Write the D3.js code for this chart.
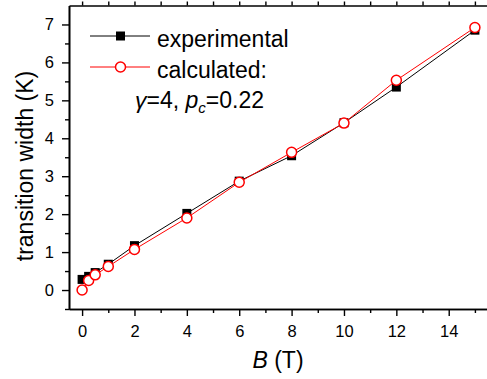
<!DOCTYPE html>
<html>
<head>
<meta charset="utf-8">
<script src="https://cdn.jsdelivr.net/npm/d3@7"></script>
<style>
  body { margin: 0; background: #fff; }
  svg { display: block; font-family: "Liberation Sans", Arial, sans-serif; }
</style>
</head>
<body>
<svg id="vis"></svg>
<script>
const plotWidth = 487;
const plotHeight = 379;

// field values (T)
const fieldB = [0, 0.25, 0.5, 1, 2, 4, 6, 8, 10, 12, 15];
// transition width (K)
const experimental = [0.28, 0.36, 0.46, 0.68, 1.17, 2.02, 2.87, 3.54, 4.41, 5.35, 6.85];
const calculated = [0.0, 0.25, 0.40, 0.62, 1.07, 1.90, 2.84, 3.63, 4.40, 5.53, 6.92];

const xMajor = [0, 2, 4, 6, 8, 10, 12, 14];
const xMinor = [1, 3, 5, 7, 9, 11, 13, 15];
const yMajor = [0, 1, 2, 3, 4, 5, 6, 7];
const yMinor = [-0.5, 0.5, 1.5, 2.5, 3.5, 4.5, 5.5, 6.5];

const svg = d3.select('#vis')
            .attr('width', plotWidth)
            .attr('height', plotHeight);

const x = d3.scaleLinear().domain([-0.5, 15.5]).range([69, 488]);
const y = d3.scaleLinear().domain([-0.5, 7.5]).range([309, 5.5]);

function styleAxis(g) {
    g.select('.domain').attr('stroke', '#000').attr('stroke-width', 1.6);
    g.selectAll('.tick line').attr('stroke', '#000').attr('stroke-width', 1.4);
    g.selectAll('.tick text').attr('fill', '#000').style('font-size', '16.5px');
}

// minor ticks first, then major axes
svg.append('g').attr('transform', `translate(0,${y.range()[0]})`)
    .call(d3.axisBottom(x).tickValues(xMinor).tickSize(4).tickSizeOuter(0).tickFormat(''))
    .call(styleAxis);
svg.append('g').attr('transform', `translate(0,${y.range()[0]})`)
    .call(d3.axisBottom(x).tickValues(xMajor).tickSize(7).tickSizeOuter(0).tickPadding(9))
    .call(styleAxis);

svg.append('g').attr('transform', `translate(0,${y.range()[1]})`)
    .call(d3.axisTop(x).tickValues(xMinor.concat(xMajor)).tickSize(4).tickSizeOuter(0).tickFormat(''))
    .call(styleAxis);

svg.append('g').attr('transform', `translate(${x.range()[0]},0)`)
    .call(d3.axisLeft(y).tickValues(yMinor).tickSize(4).tickSizeOuter(0).tickFormat(''))
    .call(styleAxis);
svg.append('g').attr('transform', `translate(${x.range()[0]},0)`)
    .call(d3.axisLeft(y).tickValues(yMajor).tickSize(7).tickSizeOuter(0).tickPadding(8))
    .call(styleAxis);

// axis labels
svg.append('text')
    .attr('transform', 'translate(33,166) rotate(-90)')
    .attr('text-anchor', 'middle')
    .style('font-size', '23px')
    .text('transition width (K)');

const xl = svg.append('text')
    .attr('x', 278).attr('y', 368)
    .attr('text-anchor', 'middle')
    .style('font-size', '23px');
xl.append('tspan').style('font-style', 'italic').text('B');
xl.append('tspan').text(' (T)');

// series
const line = d3.line().x((d, i) => x(fieldB[i])).y(d => y(d));

svg.append('path').datum(experimental)
    .attr('d', line).attr('fill', 'none').attr('stroke', '#000').attr('stroke-width', 1);
svg.selectAll('.sq').data(experimental).enter().append('rect')
    .attr('x', (d, i) => x(fieldB[i]) - 4.5)
    .attr('y', d => y(d) - 4.5)
    .attr('width', 9).attr('height', 9)
    .attr('fill', '#000');

svg.append('path').datum(calculated)
    .attr('d', line).attr('fill', 'none').attr('stroke', '#f00').attr('stroke-width', 1);
svg.selectAll('.ci').data(calculated).enter().append('circle')
    .attr('cx', (d, i) => x(fieldB[i]))
    .attr('cy', d => y(d))
    .attr('r', 5)
    .attr('fill', '#fff').attr('stroke', '#f00').attr('stroke-width', 1.5);

// legend
const legend = svg.append('g');
legend.append('line').attr('x1', 90).attr('x2', 150).attr('y1', 36).attr('y2', 36)
    .attr('stroke', '#000').attr('stroke-width', 1);
legend.append('rect').attr('x', 116).attr('y', 31.5).attr('width', 9).attr('height', 9).attr('fill', '#000');
legend.append('text').attr('x', 157).attr('y', 47).style('font-size', '23px').text('experimental');

legend.append('line').attr('x1', 90).attr('x2', 150).attr('y1', 67).attr('y2', 67)
    .attr('stroke', '#f00').attr('stroke-width', 1);
legend.append('circle').attr('cx', 120.5).attr('cy', 67).attr('r', 5)
    .attr('fill', '#fff').attr('stroke', '#f00').attr('stroke-width', 1.5);
legend.append('text').attr('x', 157).attr('y', 78).style('font-size', '23px').text('calculated:');

const params = legend.append('text').attr('x', 135).attr('y', 108).style('font-size', '23px');
params.append('tspan').style('font-style', 'italic').text('γ');
params.append('tspan').text('=4, ');
params.append('tspan').style('font-style', 'italic').text('p');
params.append('tspan').style('font-style', 'italic').style('font-size', '15px').attr('dy', 5).text('c');
params.append('tspan').attr('dy', -5).text('=0.22');
</script>
</body>
</html>
